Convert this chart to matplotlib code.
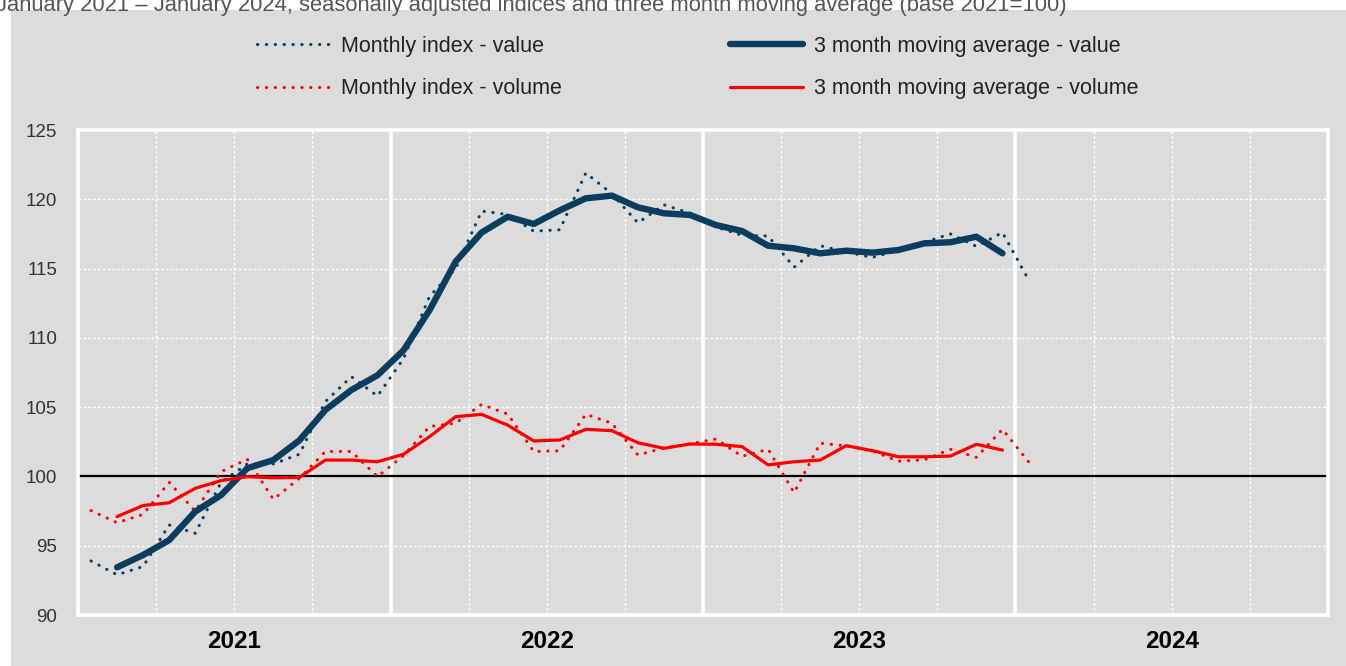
import numpy as np
import matplotlib
matplotlib.use("Agg")
import matplotlib.pyplot as plt
from matplotlib.lines import Line2D

# ---------------- data ----------------
years = ["2021", "2022", "2023", "2024"]
value_monthly = [93.9, 92.9, 93.5, 96.5, 95.9, 99.6, 100.9, 100.9, 101.6, 105.4,
                 107.2, 105.8, 108.5, 113.0, 115.0, 119.15, 118.9, 117.7, 117.8,
                 121.9, 120.4, 118.3, 119.6, 119.0, 118.0, 117.4, 117.35, 115.1,
                 116.65, 116.2, 115.8, 116.3, 116.9, 117.5, 116.6, 117.6, 114.2]
value_ma = [93.44, 94.33, 95.4, 97.46, 98.66, 100.59, 101.18, 102.6, 104.8,
            106.24, 107.3, 109.1, 112.0, 115.5, 117.6, 118.74, 118.22, 119.2,
            120.07, 120.26, 119.42, 118.99, 118.87, 118.14, 117.71, 116.65,
            116.46, 116.1, 116.29, 116.15, 116.34, 116.82, 116.9, 117.3, 116.1]
volume_monthly = [97.53, 96.66, 97.26, 99.57, 97.5, 100.35, 101.24, 98.35, 99.86,
                  101.8, 101.8, 99.98, 101.5, 103.6, 103.84, 105.2, 104.5, 101.8,
                  101.85, 104.48, 103.84, 101.55, 102.05, 102.35, 102.7, 101.45,
                  101.96, 98.83, 102.4, 102.2, 101.85, 101.1, 101.2, 101.96,
                  101.38, 103.4, 101.06]
volume_ma = [97.1, 97.9, 98.1, 99.14, 99.7, 99.98, 99.9, 99.93, 101.18, 101.18,
             101.06, 101.6, 102.87, 104.31, 104.48, 103.7, 102.56, 102.63, 103.4,
             103.3, 102.43, 102.03, 102.34, 102.32, 102.15, 100.83, 101.06,
             101.18, 102.22, 101.86, 101.42, 101.42, 101.47, 102.32, 101.9]
y_ticks = [90, 95, 100, 105, 110, 115, 120, 125]
title = ("January 2021 \u2013 January 2024, seasonally adjusted indices and "
         "three month moving average (base 2021=100)")
labels = ["Monthly index - value", "Monthly index - volume",
          "3 month moving average - value", "3 month moving average - volume"]

# ---------------- style ----------------
NAVY = "#0b3d5e"
RED = "#ff0000"
BG = "#dcdcdc"
plt.rcParams['font.family'] = ['Liberation Sans', 'DejaVu Sans']

fig = plt.figure(figsize=(13.46, 6.66), dpi=100)
fig.patch.set_facecolor("white")
# grey panel behind everything
fig.patches.append(plt.Rectangle((11 / 1346, 0), 1 - 11 / 1346, 1 - 10 / 666,
                                 transform=fig.transFigure, facecolor=BG,
                                 edgecolor="none", zorder=-10))
fig.text(-0.003, 1 + 0.007, title, ha="left", va="top", fontsize=15.8,
         color="#555555")

ax = fig.add_axes([78 / 1346, 1 - 615 / 666, 1250 / 1346, 485 / 666])
ax.set_facecolor(BG)

n_years = len(years)
ax.set_xlim(0, 12 * n_years)
ax.set_ylim(90, 125)

# grid
for v in y_ticks[1:-1]:
    if v != 100:
        ax.axhline(v, color="white", lw=1.0, ls=(0, (2, 1.5)), zorder=1)
for q in range(3, 12 * n_years, 3):
    if q % 12 == 0:
        ax.axvline(q, color="white", lw=2.6, zorder=1)
    else:
        ax.axvline(q, color="white", lw=1.0, ls=(0, (2, 1.5)), zorder=1)
ax.axhline(100, color="black", lw=1.6, zorder=2)

for s in ax.spines.values():
    s.set_color("white")
    s.set_linewidth(2.6)

x_m = np.arange(len(value_monthly)) + 0.5
x_ma = np.arange(1, len(value_ma) + 1) + 0.5

dot = (0, (0.1, 2.8))
ax.plot(x_m, value_monthly, color=NAVY, lw=2.2, ls=dot, dash_capstyle="round", zorder=3)
ax.plot(x_m, volume_monthly, color=RED, lw=2.2, ls=dot, dash_capstyle="round", zorder=3)
ax.plot(x_ma, value_ma, color=NAVY, lw=4.6, solid_capstyle="round",
        solid_joinstyle="round", zorder=4)
ax.plot(x_ma, volume_ma, color=RED, lw=2.3, solid_capstyle="round",
        solid_joinstyle="round", zorder=4)

ax.set_yticks(y_ticks)
ax.set_yticklabels([str(v) for v in y_ticks], fontsize=13.5, color="#333333")
ax.set_xticks([12 * i + 6 for i in range(n_years)])
ax.set_xticklabels(years, fontsize=17.5, fontweight="bold", color="black")
ax.tick_params(length=0)
ax.tick_params(axis="y", pad=15)
ax.tick_params(axis="x", pad=11)

handles = [
    Line2D([], [], color=NAVY, lw=2.2, ls=dot, dash_capstyle="round"),
    Line2D([], [], color=RED, lw=2.2, ls=dot, dash_capstyle="round"),
    Line2D([], [], color=NAVY, lw=4.6, solid_capstyle="round"),
    Line2D([], [], color=RED, lw=2.3, solid_capstyle="round"),
]
leg = fig.legend(handles, labels, ncol=2, loc="center",
                 bbox_to_anchor=(0.5185, 1 - 67.5 / 666), frameon=False,
                 fontsize=15.5, handlelength=3.4, handletextpad=0.5,
                 columnspacing=7.8, labelspacing=1.0)
for t in leg.get_texts():
    t.set_color("#222222")

fig.savefig("out.png", dpi=100, facecolor=fig.get_facecolor())
